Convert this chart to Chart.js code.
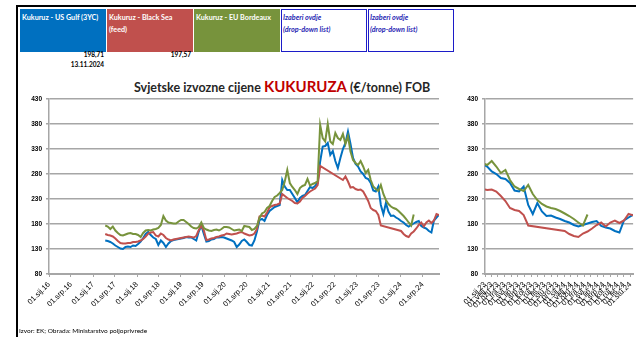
<!DOCTYPE html>
<html>
<head>
<meta charset="utf-8">
<script src="https://cdn.jsdelivr.net/npm/chart.js@4/dist/chart.umd.min.js"></script>
<style>
  body { margin: 0; width: 636px; height: 337px; overflow: hidden; background: #fff; position: relative; font-family: Lato, 'Liberation Sans', sans-serif; }
  .rule { position: absolute; background: #000; }
  .box { position: absolute; top: 9px; width: 86px; height: 43px; box-sizing: border-box; padding: 3px 2px; font-size: 7.2px; font-weight: bold; color: #fff; line-height: 12px; white-space: nowrap; }
  .pick { border: 1.5px solid #1c1cc8; color: #2a2ab4; font-style: italic; padding: 2px 1px; }
  .val { position: absolute; font-size: 6.5px; font-weight: bold; color: #000; text-align: right; width: 60px; }
  #title { position: absolute; left: 134px; top: 77px; white-space: nowrap; font-size: 12.5px; font-weight: bold; color: #262626; }
  #title .hl { color: #c00000; font-size: 15px; }
  #source { position: absolute; left: 19px; top: 327px; font-size: 6.5px; color: #000; white-space: nowrap; }
  .wrap { position: absolute; top: 90px; }
</style>
</head>
<body>
<div class="rule" style="left:16px; top:5px; width:640px; height:2px;"></div>
<div class="rule" style="left:16px; top:5px; width:2px; height:340px;"></div>

<div class="box" style="left:20px; background:#0070c0;">Kukuruz - US Gulf (3YC)</div>
<div class="box" style="left:107px; background:#c0504d;">Kukuruz - Black Sea<br>(feed)</div>
<div class="box" style="left:194px; background:#77933c;">Kukuruz - EU Bordeaux</div>
<div class="box pick" style="left:281px;">Izaberi ovdje<br>(drop-down list)</div>
<div class="box pick" style="left:368px;">Izaberi ovdje<br>(drop-down list)</div>

<div class="val" id="lastGulf" style="left:44px; top:51px;"></div>
<div class="val" id="lastDate" style="left:44px; top:61px;"></div>
<div class="val" id="lastSea" style="left:131px; top:51px;"></div>

<div id="title">Svjetske izvozne cijene <span class="hl">KUKURUZA</span> (€/tonne) FOB</div>

<div class="wrap" style="left:0px;"><canvas id="mainChart" width="445" height="240"></canvas></div>
<div class="wrap" style="left:440px;"><canvas id="recentChart" width="200" height="240"></canvas></div>

<div id="source">Izvor: EK; Obrada: Ministarstvo poljoprivrede</div>

<script>
// weekly quotes sampled every 3 weeks, first quote 12.04.2017
const firstQuote = [2017, 3, 12];
const stepDays = 21;

const usGulf = [
  147, 146, 144, 141, 137, 134, 131, 130, 134, 135, 134, 137, 136,
  140, 145, 152, 160, 164, 158, 153, 150, 138, 147, 142, 134, 141, 146, 148, 149, 150,
  151, 152, 154, 153, 153, 150, 147, 165, 177, 160, 145, 146, 149, 150, 153, 153, 154, 153,
  151, 149, 147, 144, 134, 139, 146, 149, 144, 138, 137, 147, 165, 188, 190, 186, 198,
  206, 210, 214, 216, 218, 268, 255, 248, 248, 240, 232, 223, 232, 236, 238, 246, 254, 252, 256, 262,
  305, 335, 336, 342, 318, 326, 306, 292, 312, 330, 342, 365, 340, 312, 300,
  295, 285, 280, 272, 270, 262, 247, 245, 255, 218, 200, 222, 205, 196, 197, 193, 190,
  186, 183, 178, 175, 178, 181, 184, 186, 176, 173, 171, 166, 163, 187, 193, 198.71
];

const blackSea = [
  160, 158, 157, 155, 151, 146, 142, 141, 141, 142, 142, 144, 144,
  145, 147, 150, 155, 161, 163, 164, 157, 155, 161, 158, 152, 149, 147, 149, 150, 151,
  152, 153, 154, 155, 154, 153, 156, 168, 176, 167, 148, 149, 151, 152, 154, 155, 157, 158,
  161, 160, 159, 160, 161, 163, 164, 161, 159, 157, 158, 161, 170, 195, 197, 195, 203,
  213, 216, 218, 219, 221, 240, 236, 232, 229, 226, 222, 221, 225, 232, 236, 241, 245, 248, 251, 258,
  296, null, null, null, null, null, null, null, null, 268, 275, 265, 253, 254, 250,
  248, 249, 245, 236, 226, 212, 208, 206, 198, 177, null, null, null, null, null, null, null,
  166, 160, 156, 154, 161, 165, 171, 178, 183, 175, 183, 187, 182, 187, 200, 197.57
];

const euBordeaux = [
  177, 175, 170, 175, 167, 162, 158, 157, 159, 161, 162, 160, 160,
  158, 154, 162, 167, 168, 167, 169, 170, 172, 178, 196, 187, 183, 182, 181, 181, 185,
  188, 188, 184, 180, 175, 172, 171, 174, 183, 172, 169, 167, 166, 168, 169, 167, 170, 174,
  174, 173, 170, 167, 168, 169, 166, 176, 175, 174, 168, 170, 176, 192, 201, 204, 212,
  216, 226, 234, 237, 242, 248, 265, 288, 262, 254, 248, 240, 252, 256, 258, 270, 257, 260, 262, 266,
  378, 352, 345, 380, 345, 340, 362, 352, 348, 360, 340, 356, 325, 308, 302,
  298, 306, 295, 282, 288, 268, 255, 250, 246, 258, 240, 228, 220, 215, 212, 210, 206,
  201, 196, 190, 183, 177, 199, null, null, null, null, null, null, null, null, null, null
];

const yTicks = { min: 80, max: 430, step: 50 };
const MONTHS = ['sij', 'velj', 'ožu', 'tra', 'svi', 'lip', 'srp', 'kol', 'ruj', 'lis', 'stu', 'pro'];

const DAY = 86400000;
const EPOCH = Date.UTC(2016, 0, 1);
const dayOf = (y, m, d) => (Date.UTC(y, m, d) - EPOCH) / DAY;

const firstDay = dayOf(...firstQuote);
const quoteDays = usGulf.map((_, i) => firstDay + i * stepDays);
const lastDay = quoteDays[quoteDays.length - 1];

const fmtTick = v => {
  const dt = new Date(EPOCH + v * DAY);
  return String(dt.getUTCDate()).padStart(2, '0') + '.' + MONTHS[dt.getUTCMonth()] + '.' + String(dt.getUTCFullYear()).slice(2);
};

// half-year ticks for the long chart, monthly ones for the recent one
const halfYearTicks = [];
for (let y = 2016; y <= 2024; y++) {
  halfYearTicks.push(dayOf(y, 0, 1), dayOf(y, 6, 1));
}
const monthTicks = [];
for (let m = 0; m < 23; m++) monthTicks.push(dayOf(2023, m, 1));

const toPoints = arr => arr.map((v, i) => ({ x: quoteDays[i], y: v }));

const series = [
  { label: 'Kukuruz - US Gulf (3YC)', data: usGulf, color: '#0070c0', order: 2 },
  { label: 'Kukuruz - Black Sea (feed)', data: blackSea, color: '#c0504d', order: 1 },
  { label: 'Kukuruz - EU Bordeaux', data: euBordeaux, color: '#77933c', order: 0 }
];

const gridColor = '#a6a6a6';

const makeChart = (canvasId, xMin, xMax, tickDays, axisWidth, padRight) => {
  return new Chart(document.getElementById(canvasId).getContext('2d'), {
    type: 'line',
    data: {
      datasets: series.map(s => ({
        label: s.label,
        data: toPoints(s.data),
        borderColor: s.color,
        borderWidth: 2,
        pointRadius: 0,
        tension: 0,
        spanGaps: true,
        order: s.order
      }))
    },
    options: {
      responsive: false,
      animation: false,
      devicePixelRatio: 1,
      layout: { padding: { top: 9, right: padRight, left: 0, bottom: 0 } },
      plugins: { legend: { display: false }, tooltip: { enabled: false } },
      scales: {
        x: {
          type: 'linear',
          min: xMin,
          max: xMax,
          afterBuildTicks: scale => { scale.ticks = tickDays.map(v => ({ value: v })); },
          afterFit: scale => { scale.height = 56; },
          ticks: {
            autoSkip: false,
            maxRotation: 45,
            minRotation: 45,
            padding: 3,
            color: '#000',
            font: { size: 7.6 },
            callback: v => fmtTick(v)
          },
          grid: { drawOnChartArea: false, drawTicks: true, tickLength: 3, color: gridColor, lineWidth: 1 },
          border: { color: gridColor, width: 2 }
        },
        y: {
          min: yTicks.min,
          max: yTicks.max,
          afterFit: scale => { scale.width = axisWidth; },
          ticks: { stepSize: yTicks.step, padding: 4, color: '#000', font: { size: 6.5, weight: 'bold' } },
          grid: { color: gridColor, lineWidth: 1.6, tickLength: 3 },
          border: { color: gridColor, width: 1.5 }
        }
      }
    }
  });
};

makeChart('mainChart', dayOf(2016, 0, 1), lastDay, halfYearTicks, 49, 6);
makeChart('recentChart', dayOf(2023, 0, 1), lastDay, monthTicks, 45, 3);

// latest quotes under the legend boxes
const comma = v => v.toFixed(2).replace('.', ',');
const lastDate = new Date(EPOCH + lastDay * DAY);
document.getElementById('lastGulf').textContent = comma(usGulf[usGulf.length - 1]);
document.getElementById('lastSea').textContent = comma(blackSea[blackSea.length - 1]);
document.getElementById('lastDate').textContent =
  String(lastDate.getUTCDate()).padStart(2, '0') + '.' + String(lastDate.getUTCMonth() + 1).padStart(2, '0') + '.' + lastDate.getUTCFullYear();
</script>
</body>
</html>
